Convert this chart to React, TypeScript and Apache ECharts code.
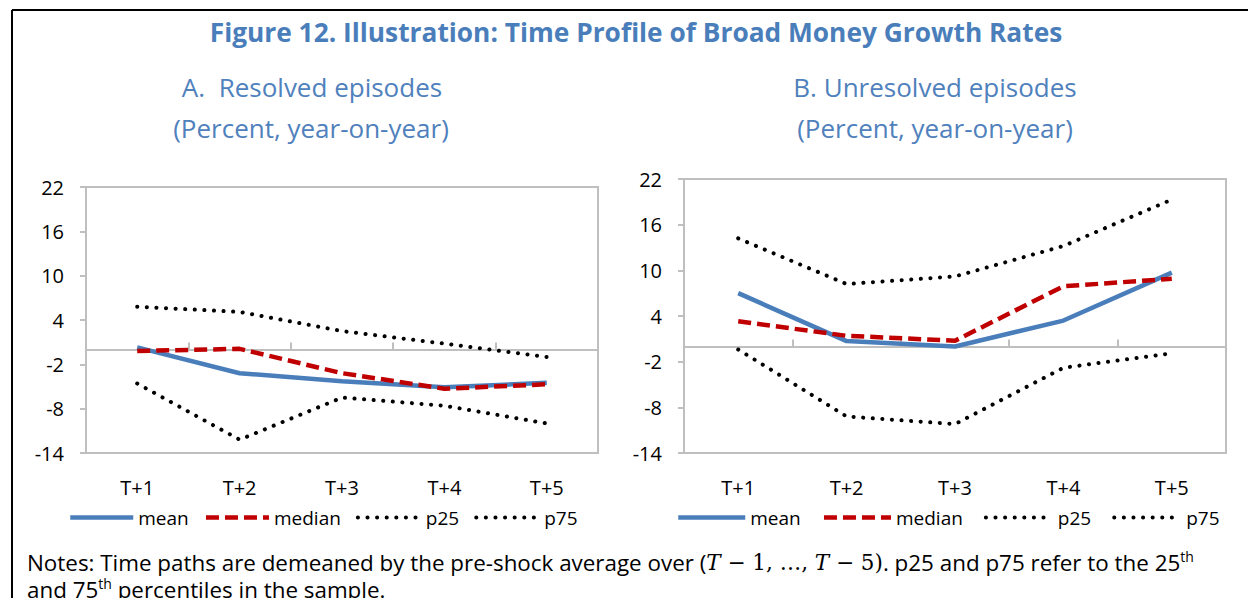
import React, { useEffect, useRef } from "react";
import * as echarts from "echarts";

const categories = ["T+1", "T+2", "T+3", "T+4", "T+5"];
const yTicks = [-14, -8, -2, 4, 10, 16, 22];

const resolvedMean = [0.3, -3.2, -4.3, -5.1, -4.5];
const resolvedMedian = [-0.2, 0.1, -3.2, -5.3, -4.7];
const resolvedP25 = [-4.6, -12.2, -6.5, -7.6, -10.0];
const resolvedP75 = [5.8, 5.1, 2.5, 0.8, -1.0];

const unresolvedMean = [7.0, 0.7, 0.0, 3.4, 9.7];
const unresolvedMedian = [3.3, 1.4, 0.75, 7.9, 8.9];
const unresolvedP25 = [-0.4, -9.2, -10.2, -2.8, -0.9];
const unresolvedP75 = [14.2, 8.2, 9.2, 13.2, 19.3];

const seriesNames = ["mean", "median", "p25", "p75"];

const BLUE = "#4A7EBB";
const RED = "#C00000";
const GRAY = "#BFBFBF";
const FONT = "'Open Sans', 'Noto Sans', sans-serif";

export default function App() {
  const ref = useRef<HTMLDivElement>(null);

  useEffect(() => {
    if (!ref.current) return;
    const chart = echarts.init(ref.current, undefined, { renderer: "svg" });

    const lineStyles: any = {
      mean: { color: BLUE, width: 4.5, type: "solid", cap: "butt" },
      median: { color: RED, width: 4.5, type: [13, 6], cap: "butt" },
      p25: { color: "#000", width: 4, type: [0.1, 9.5], cap: "round" },
      p75: { color: "#000", width: 4, type: [0.1, 9.5], cap: "round" },
    };

    const mk = (name: string, data: number[], idx: number) => ({
      name,
      type: "line",
      xAxisIndex: idx * 2,
      yAxisIndex: idx,
      data,
      symbol: "none",
      z: name === "mean" ? 3 : name === "median" ? 4 : 2,
      lineStyle: lineStyles[name],
      itemStyle: { color: lineStyles[name].color },
    });

    const xAxisPair = (gridIndex: number) => [
      {
        type: "category",
        gridIndex,
        data: categories,
        boundaryGap: true,
        position: "bottom",
        axisLine: { show: true, onZero: true, lineStyle: { color: GRAY, width: 2 } },
        axisTick: { show: true, inside: true, length: 7, lineStyle: { color: GRAY, width: 2 } },
        axisLabel: { show: false },
        splitLine: { show: false },
      },
      {
        type: "category",
        gridIndex,
        data: categories,
        boundaryGap: true,
        position: "bottom",
        axisLine: { show: false, onZero: false },
        axisTick: { show: false },
        axisLabel: { show: true, color: "#000", fontSize: 20, fontFamily: FONT, margin: 24 },
        splitLine: { show: false },
      },
    ];

    const yAxis = (gridIndex: number) => ({
      type: "value",
      gridIndex,
      min: -14,
      max: 22,
      axisLine: { show: false },
      axisTick: { show: true, length: 6, customValues: yTicks, lineStyle: { color: GRAY, width: 2 } },
      axisLabel: { show: true, customValues: yTicks, color: "#000", fontSize: 20, fontFamily: FONT, margin: 22 },
      splitLine: { show: false },
    });

    const legendData = seriesNames.map((n) => ({
      name: n,
      itemStyle: { opacity: 0 },
      lineStyle: { ...lineStyles[n] },
    }));

    const legend = (left: number, iw: number, gap: number) => ({
      data: legendData,
      left,
      top: 508,
      padding: 0,
      orient: "horizontal",
      itemWidth: iw,
      itemHeight: 16,
      itemGap: gap,
      itemStyle: { opacity: 0 },
      textStyle: { color: "#000", fontSize: 19, fontFamily: FONT },
      selectedMode: false,
    });

    const subtitleStyle = { fill: "#4F81BD", fontSize: 26, fontFamily: FONT, textAlign: "center", textVerticalAlign: "middle" };

    chart.setOption({
      animation: false,
      backgroundColor: "#fff",
      grid: [
        { left: 86, top: 187, width: 512, height: 266, show: true, borderColor: GRAY, borderWidth: 2, containLabel: false },
        { left: 684, top: 179, width: 542, height: 274, show: true, borderColor: GRAY, borderWidth: 2, containLabel: false },
      ],
      xAxis: [...xAxisPair(0), ...xAxisPair(1)],
      yAxis: [yAxis(0), yAxis(1)],
      legend: [legend(68, 63, 15), legend(676, 67, 21)],
      series: [
        mk("mean", resolvedMean, 0),
        mk("median", resolvedMedian, 0),
        mk("p25", resolvedP25, 0),
        mk("p75", resolvedP75, 0),
        mk("mean", unresolvedMean, 1),
        mk("median", unresolvedMedian, 1),
        mk("p25", unresolvedP25, 1),
        mk("p75", unresolvedP75, 1),
      ],
      graphic: [
        { type: "line", shape: { x1: 12, y1: 10, x2: 1248, y2: 10 }, style: { stroke: "#000", lineWidth: 2 } },
        { type: "line", shape: { x1: 12, y1: 10, x2: 12, y2: 598 }, style: { stroke: "#000", lineWidth: 2 } },
        {
          type: "text",
          x: 636,
          y: 32,
          style: {
            text: "Figure 12. Illustration: Time Profile of Broad Money Growth Rates",
            fill: BLUE,
            fontSize: 26.3,
            fontWeight: "bold",
            fontFamily: FONT,
            textAlign: "center",
            textVerticalAlign: "middle",
          },
        },
        { type: "text", x: 312, y: 87, style: { ...subtitleStyle, text: "A.  Resolved episodes" } },
        { type: "text", x: 311, y: 128, style: { ...subtitleStyle, text: "(Percent, year-on-year)" } },
        { type: "text", x: 935, y: 87, style: { ...subtitleStyle, text: "B. Unresolved episodes" } },
        { type: "text", x: 935, y: 128, style: { ...subtitleStyle, text: "(Percent, year-on-year)" } },
        {
          type: "text",
          x: 27,
          y: 549,
          style: {
            text:
              "{n|Notes: Time paths are demeaned by the pre-shock average over (}{it|T}{m| − 1, …, }{it|T}{m| − 5)}{n|. p25 and p75 refer to the 25}{sup|th}\n{n|and 75}{sup|th}{n| percentiles in the sample.}",
            fill: "#000",
            fontFamily: FONT,
            fontSize: 22.4,
            rich: {
              n: { fontSize: 22.4, fontFamily: FONT, lineHeight: 27, fill: "#000" },
              m: { fontSize: 21.5, fontFamily: "'DejaVu Serif', serif", lineHeight: 27, fill: "#000" },
              it: { fontSize: 21.5, fontFamily: "'DejaVu Serif', serif", fontStyle: "italic", lineHeight: 27, fill: "#000" },
              sup: { fontSize: 14, fontFamily: FONT, verticalAlign: "top", lineHeight: 13, fill: "#000" },
            },
          },
        },
      ],
    });

    return () => chart.dispose();
  }, []);

  return <div ref={ref} style={{ position: "absolute", left: 0, top: 0, width: 1248, height: 598 }} />;
}
